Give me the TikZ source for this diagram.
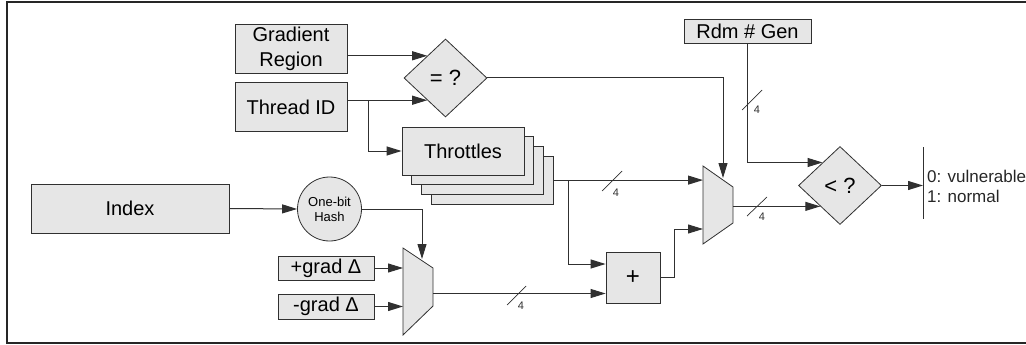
\documentclass[tikz,border=0pt]{standalone}
\usepackage{fontspec}
\setmainfont{Liberation Sans}
\usetikzlibrary{arrows.meta,calc,shapes.geometric}
\definecolor{boxfill}{HTML}{E6E6E6}
\definecolor{ink}{HTML}{303030}
\begin{document}
\begin{tikzpicture}[x=1pt,y=-1pt,
  blk/.style={draw=ink, fill=boxfill, line width=0.8pt, inner sep=0pt,
    font=\fontsize{20}{25}\selectfont},
  cmp/.style={diamond, draw=ink, fill=boxfill, line width=0.8pt, inner sep=0pt,
    minimum width=83pt, minimum height=78pt, font=\fontsize{22}{24}\selectfont},
  muxshape/.style={draw=ink, fill=boxfill, line width=0.8pt},
  wire/.style={draw=ink, line width=1pt},
  arr/.style={wire, -{Triangle[length=15pt,width=9pt]}},
  bus/.style={draw=ink, line width=0.7pt},
  buswidth/.style={font=\fontsize{11}{12}\selectfont, inner sep=0pt, text=ink},
]
\useasboundingbox (0,0) rectangle (1026,345);
% outer frame
\draw[line width=2pt, black!85] (1026,2) -- (7,2) -- (7,343) -- (1026,343);

% ---- blocks ----
\node[blk, minimum width=112pt, minimum height=49pt, align=center] (grad) at (291,48.5) {Gradient\\Region};
\node[blk, minimum width=112pt, minimum height=49pt] (tid) at (291,107) {Thread ID};
\node[cmp] (eq) at (445.5,78) {= ?};

\node[blk, minimum width=122pt, minimum height=48pt] (thr3) at (492.1,180.1) {};
\node[blk, minimum width=122pt, minimum height=48pt] (thr2) at (482.4,170.4) {};
\node[blk, minimum width=122pt, minimum height=48pt] (thr1) at (472.7,160.7) {};
\node[blk, minimum width=122pt, minimum height=48pt] (thr) at (463,151) {Throttles};

\node[blk, minimum width=127pt, minimum height=24pt] (rdm) at (747.5,31) {Rdm \# Gen};
\node[cmp] (lt) at (840,185.5) {< ?};

\node[blk, minimum width=198pt, minimum height=49pt] (index) at (130,208.5) {Index};
\node[circle, draw=ink, fill=boxfill, line width=0.8pt, minimum size=64pt, inner sep=0pt,
  align=center, font=\fontsize{13}{15}\selectfont] (hash) at (329.5,209) {One-bit\\Hash};
\node[blk, minimum width=96pt, minimum height=24pt] (pg) at (326,268) {+grad Δ};
\node[blk, minimum width=96pt, minimum height=25pt] (mg) at (326,306.5) {-grad Δ};
\node[blk, minimum width=54pt, minimum height=51pt, font=\fontsize{24}{24}\selectfont] (plus) at (633,277.5) {+};

% multiplexers
\draw[muxshape] (403,248) -- (433,268) -- (433,306) -- (403,335) -- cycle;
\coordinate (m1in1) at (403,268);
\coordinate (m1in2) at (403,306.5);
\coordinate (m1sel) at (422,259);
\coordinate (m1out) at (433,293.5);

\draw[muxshape] (703,166) -- (733,187) -- (733,223) -- (703,244) -- cycle;
\coordinate (m2in1) at (703,180.1);
\coordinate (m2in2) at (703,229);
\coordinate (m2sel) at (723,178);
\coordinate (m2out) at (733,206);

% output marker
\coordinate (barTop) at (923,147);
\coordinate (barBot) at (923,219);
\draw[ink, line width=0.8pt] (barTop) -- (barBot);
\node[anchor=west, align=left, inner sep=0pt, font=\fontsize{17}{20}\selectfont, text=black!85]
  (res) at (927,186) {0: vulnerable\\1: normal};

% ---- connectors ----
\coordinate (eqA) at ($(eq.west)!0.564!(eq.north)$);
\coordinate (eqB) at ($(eq.west)!0.564!(eq.south)$);
\draw[arr] (grad.east |- eqA) -- (eqA);
\draw[arr] (tid.east |- eqB) -- (eqB);
\coordinate (tidTap) at ($(tid.east |- eqB)+(21,0)$);
\draw[arr] (tidTap) |- (thr.west);
\draw[arr] (eq.east) -| (m2sel);

\draw[arr] (thr3.east) -- (m2in1);
\coordinate (thrTap) at ($(thr3.east)+(15,0)$);
\draw[arr] (thrTap) |- ($(plus.west)+(0,-13.5)$);

\draw[arr] (index.east) -- (hash.west);
\draw[arr] (hash.east) -| (m1sel);
\draw[arr] (pg.east) -- (m1in1);
\draw[arr] (mg.east) -- (m1in2);
\draw[arr] (m1out) -- (plus.west |- m1out);

\draw[arr] (plus.east) -- ++(14,0) |- (m2in2);

\coordinate (ltA) at ($(lt.west)!0.584!(lt.north)$);
\coordinate (ltB) at ($(lt.west)!0.53!(lt.south)$);
\draw[arr] (m2out |- ltB) -- (ltB);
\draw[arr] (rdm.south) |- (ltA);
\draw[arr] (lt.east) -- (barTop |- lt.east);

% bus width marks
\draw[bus] (602,191) -- (622,171);
\node[buswidth] at (616,193) {4};
\draw[bus] (742,110) -- (762,90);
\node[buswidth] at (757,110) {4};
\draw[bus] (747,216) -- (767,197);
\node[buswidth] at (762,217) {4};
\draw[bus] (507,305) -- (526,286);
\node[buswidth] at (521,306) {4};
\end{tikzpicture}
\end{document}
